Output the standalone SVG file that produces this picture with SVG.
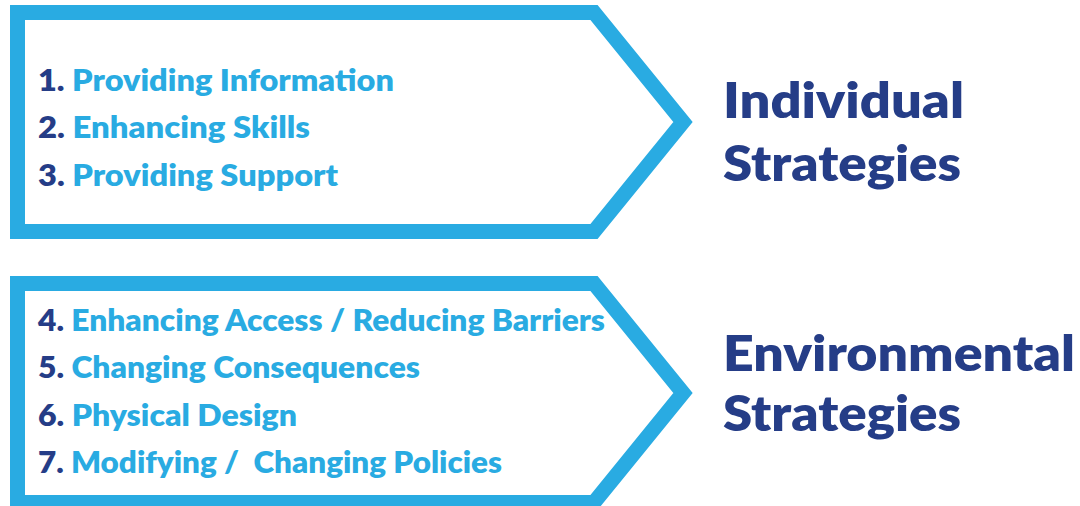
<svg xmlns="http://www.w3.org/2000/svg" width="1080" height="506" viewBox="0 0 1080 506">
  <style>
    .frame { fill: #ffffff; stroke: #29abe2; stroke-width: 15; stroke-linejoin: miter; stroke-miterlimit: 10; }
    .item { font-family: Lato, "Liberation Sans", sans-serif; font-weight: 800; font-size: 29.5px; fill: #29abe2; }
    .num { fill: #253d87; }
    .head { font-family: Lato, "Liberation Sans", sans-serif; font-weight: 800; font-size: 50px; fill: #253d87; }
  </style>
  <rect width="1080" height="506" fill="#ffffff"/>

  <g id="individual">
    <polygon class="frame" points="17.5,12.5 594,12.5 683,122 594,231.5 17.5,231.5"/>
    <text class="item" x="38" y="90.7" textLength="356" lengthAdjust="spacingAndGlyphs"><tspan class="num">1.</tspan> Providing Information</text>
    <text class="item" x="38" y="138.3" textLength="272" lengthAdjust="spacingAndGlyphs"><tspan class="num">2.</tspan> Enhancing Skills</text>
    <text class="item" x="38" y="185.7" textLength="300" lengthAdjust="spacingAndGlyphs"><tspan class="num">3.</tspan> Providing Support</text>
    <text class="head" x="723" y="118.3" textLength="241" lengthAdjust="spacingAndGlyphs">Individual</text>
    <text class="head" x="723" y="180.7" textLength="238" lengthAdjust="spacingAndGlyphs">Strategies</text>
  </g>

  <g id="environmental">
    <polygon class="frame" points="17.5,283.5 594,283.5 683,393 594,502.5 17.5,502.5"/>
    <text class="item" x="38" y="330.7" textLength="567" lengthAdjust="spacingAndGlyphs"><tspan class="num">4.</tspan> Enhancing Access / Reducing Barriers</text>
    <text class="item" x="38" y="378.3" textLength="382" lengthAdjust="spacingAndGlyphs"><tspan class="num">5.</tspan> Changing Consequences</text>
    <text class="item" x="38" y="425.7" textLength="259" lengthAdjust="spacingAndGlyphs"><tspan class="num">6.</tspan> Physical Design</text>
    <text class="item" x="38" y="473.3" textLength="464" lengthAdjust="spacingAndGlyphs" xml:space="preserve"><tspan class="num">7.</tspan> Modifying /  Changing Policies</text>
    <text class="head" x="723" y="370.7" textLength="352" lengthAdjust="spacingAndGlyphs">Environmental</text>
    <text class="head" x="723" y="430.7" textLength="238" lengthAdjust="spacingAndGlyphs">Strategies</text>
  </g>

  <g id="connectors"/>
</svg>
